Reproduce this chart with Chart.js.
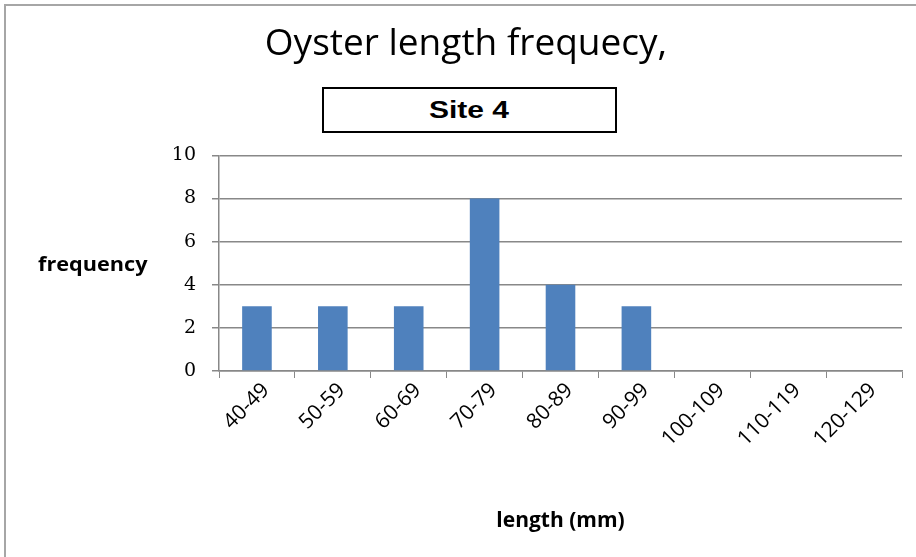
<!DOCTYPE html>
<html>
<head>
<meta charset="utf-8">
<script src="https://cdn.jsdelivr.net/npm/chart.js@4.4.0/dist/chart.umd.min.js"></script>
<style>
    html, body { margin: 0; padding: 0; background: #fff; }
    #wrap { position: relative; width: 916px; height: 557px; overflow: hidden; }
    #frame { position: absolute; left: 4px; top: 4px; width: 940px; height: 580px; border: 2px solid #a6a6a6; box-sizing: border-box; }
    #siteBox {
        position: absolute; left: 322px; top: 87px; width: 295px; height: 46px;
        border: 2px solid #000; box-sizing: border-box; background: #fff;
        display: flex; align-items: center; justify-content: center;
    }
    #siteBox span {
        display: inline-block; transform: scaleX(1.25);
        font: bold 24px "Liberation Sans", Arial, sans-serif; color: #000;
    }
    #yLabel {
        position: absolute; left: 38px; top: 251px; transform-origin: left center;
        transform: scaleX(1.14);
        font: bold 19px "Open Sans", Lato, sans-serif; color: #000;
    }
    canvas { position: absolute; left: 0; top: 0; }
</style>
</head>
<body>
<div id="wrap">
    <div id="frame"></div>
    <canvas id="chart" width="916" height="557"></canvas>
    <div id="siteBox"><span>Site 4</span></div>
    <div id="yLabel">frequency</div>
</div>
<script>
const lengthClasses = ['40-49', '50-59', '60-69', '70-79', '80-89', '90-99', '100-109', '110-119', '120-129'];
const frequencies = [3, 3, 3, 8, 4, 3, 0, 0, 0];
const yTicks = [0, 2, 4, 6, 8, 10];

const axisGrey = '#888888';

new Chart(document.getElementById('chart').getContext('2d'), {
    type: 'bar',
    data: {
        labels: lengthClasses,
        datasets: [{
            label: 'frequency',
            data: frequencies,
            backgroundColor: '#4f81bd',
            borderWidth: 0,
            categoryPercentage: 1,
            barPercentage: 0.39
        }]
    },
    options: {
        responsive: false,
        animation: false,
        layout: { padding: { left: 30, right: 14, top: 0, bottom: 0 } },
        plugins: {
            legend: { display: false },
            tooltip: { enabled: false },
            title: {
                display: true,
                text: 'Oyster length frequecy,',
                color: '#000',
                font: { family: '"Open Sans", Lato, sans-serif', size: 37, weight: 'normal', lineHeight: 1.2 },
                padding: { top: 22, bottom: 89 }
            }
        },
        scales: {
            x: {
                grid: { display: true, drawOnChartArea: false, drawTicks: true, tickLength: 7, color: axisGrey, offset: true },
                border: { color: axisGrey, width: 1.5 },
                ticks: {
                    color: '#000',
                    minRotation: 45,
                    maxRotation: 45,
                    padding: 0,
                    labelOffset: 9,
                    font: { family: '"Open Sans", Lato, sans-serif', size: 21 }
                },
                title: {
                    display: true,
                    text: 'length (mm)',
                    color: '#000',
                    font: { family: '"Open Sans", Lato, sans-serif', size: 21, weight: 'bold', lineHeight: 1.2 },
                    padding: { top: 0, bottom: 23 }
                },
                afterFit: scale => { scale.height = 186; }
            },
            y: {
                min: 0,
                max: 10,
                afterBuildTicks: scale => { scale.ticks = yTicks.map(v => ({ value: v })); },
                grid: { color: axisGrey, lineWidth: 1.5, tickLength: 7 },
                border: { color: axisGrey, width: 1.5 },
                ticks: {
                    color: '#000',
                    padding: 16,
                    font: { family: '"DejaVu Serif", serif', size: 19 }
                },
                afterFit: scale => { scale.width = 189; }
            }
        }
    }
});
</script>
</body>
</html>
